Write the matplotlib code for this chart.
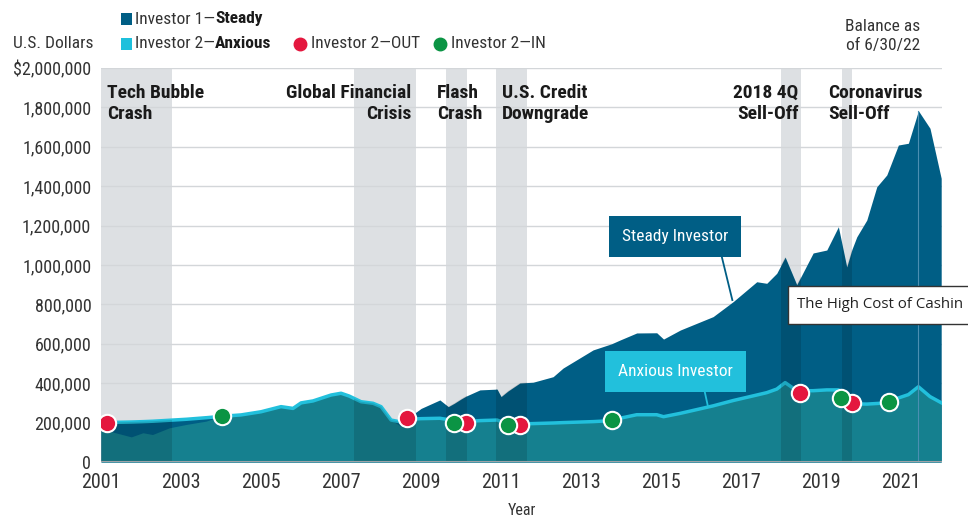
import numpy as np
import matplotlib
matplotlib.use('Agg')
import matplotlib.pyplot as plt
from matplotlib.patches import Rectangle

# balances (thousands of USD)
years = [2001.0, 2001.3, 2001.77, 2002.06, 2002.3, 2002.72, 2003.14, 2003.64, 2004.03, 2004.5,
         2005.0, 2005.5, 2005.8, 2006.0, 2006.3, 2006.75, 2007.0, 2007.2, 2007.5, 2007.8,
         2008.0, 2008.25, 2008.5, 2008.66, 2008.75, 2009.0, 2009.47, 2009.68, 2009.83, 2010.0,
         2010.13, 2010.47, 2010.9, 2011.0, 2011.17, 2011.47, 2011.8, 2012.3, 2012.55, 2013.3,
         2013.76, 2013.97, 2014.39, 2014.89, 2015.06, 2015.48, 2016.3, 2016.8, 2017.39, 2017.64,
         2017.89, 2018.1, 2018.39, 2018.8, 2019.14, 2019.43, 2019.64, 2019.77, 2019.89, 2020.14,
         2020.39, 2020.64, 2020.93, 2021.18, 2021.43, 2021.72, 2022.0]
steady = [170, 150, 125, 146, 137, 171, 188, 205, 232, 239,
          255, 281, 272, 300, 310, 340, 349, 335, 306, 298,
          281, 213, 180, 205, 235, 272, 315, 281, 298, 320,
          335, 366, 370, 332, 360, 401, 405, 433, 477, 569,
          600, 619, 655, 656, 624, 670, 738, 814, 915, 907,
          958, 1040, 900, 1061, 1076, 1194, 990, 1080, 1143, 1228,
          1397, 1457, 1609, 1618, 1783, 1694, 1440]
anxious = [200, 201, 203, 205, 207, 212, 217, 225, 232, 239,
           255, 281, 272, 300, 310, 340, 349, 335, 306, 298,
           281, 213, 203, 215, 218, 220, 222, 215, 205, 205,
           206, 210, 213, 205, 195, 193, 195, 198, 200, 205,
           210, 222, 240, 240, 230, 247, 285, 312, 340, 352,
           370, 403, 362, 362, 366, 366, 325, 298, 295, 294,
           297, 300, 325, 342, 382, 332, 301]

out_x = [2001.15, 2008.66, 2010.13, 2011.48, 2018.47, 2019.77]
out_y = [200, 222, 200, 188, 350, 301]
in_x = [2004.03, 2009.83, 2011.17, 2013.76, 2019.49, 2020.7]
in_y = [235, 200, 188, 213, 325, 306]

events = ['Tech Bubble\nCrash', 'Global Financial\nCrisis', 'Flash\nCrash',
          'U.S. Credit\nDowngrade', '2018 4Q\nSell-Off', 'Coronavirus\nSell-Off']
ev_start = [2001.0, 2007.33, 2009.62, 2010.87, 2018.0, 2019.52]
ev_end = [2002.77, 2008.87, 2010.14, 2011.65, 2018.49, 2019.78]

years = np.array(years)
steady = np.array(steady) * 1000
anxious = np.array(anxious) * 1000

DARK = '#005e85'
TEAL = '#15808f'
CYAN = '#22c0dc'
GRAY = '#dde0e3'
RED = '#e4173e'
GREEN = '#0b9444'
NARROW = ['Roboto Condensed', 'PT Sans Narrow', 'DejaVu Sans']

W, H = 968, 519
def fx(px):
    return px / W
def fy(py):
    return 1 - py / H

fig = plt.figure(figsize=(W / 100, H / 100), dpi=100)
ax = fig.add_axes([fx(101), fy(462), fx(942) - fx(101), fy(68) - fy(462)])

# event bands
for a, b in zip(ev_start, ev_end):
    ax.axvspan(a, b, ymin=0, ymax=1, color=GRAY, lw=0, zorder=0.5)
for v in range(200000, 2000001, 200000):
    ax.axhline(v, color='#d3d6d9', lw=1, zorder=1)

ax.fill_between(years, 0, steady, color=DARK, lw=0, zorder=2)
ax.fill_between(years, 0, anxious, color=TEAL, lw=0, zorder=3)
ax.fill_between(years, steady, anxious, where=anxious > steady, interpolate=True,
                color=DARK, lw=0, zorder=3.2)
ax.plot(years, anxious, color=CYAN, lw=2.5, zorder=4, solid_joinstyle='round')

# darker tint of the bands where they cross the areas
clip = ax.fill_between(years, 0, np.maximum(steady, anxious), color='none', lw=0)
for a, b in zip(ev_start, ev_end):
    r = ax.axvspan(a, b, color='k', alpha=0.13, lw=0, zorder=4.5)
    r.set_clip_path(clip.get_paths()[0], ax.transData)

peak = int(np.argmax(steady))
ax.plot([years[peak], years[peak]], [0, steady[peak]], color='#4b8fb2', lw=0.8, zorder=5)

ax.plot(out_x, np.array(out_y) * 1000, 'o', color=RED, ms=12.5, mec='white', mew=1.5, zorder=6)
ax.plot(in_x, np.array(in_y) * 1000, 'o', color=GREEN, ms=12.5, mec='white', mew=1.5, zorder=6)

ax.set_xlim(2001, 2022.02)
ax.set_ylim(0, 2000000)
ax.set_xticks(range(2001, 2022, 2))
ax.set_xticklabels([str(y) for y in range(2001, 2022, 2)], family=NARROW, fontsize=14.5, color='#333333')
yt = list(range(0, 2000001, 200000))
ax.set_yticks(yt)
ylabels = ['{:,}'.format(v) for v in yt]
ylabels[-1] = '$' + ylabels[-1]
ax.set_yticklabels(ylabels, family=NARROW, fontsize=13, color='#333333')
ax.tick_params(length=0, pad=8)
ax.tick_params(axis='y', pad=7)
for s in ax.spines.values():
    s.set_visible(False)
ax.axhline(0, color='#a0a4a8', lw=1.5, zorder=5)
ax.set_xlabel('Year', family=NARROW, fontsize=11.5, color='#333333', labelpad=8)

# event labels
ev_x = [2001.15, 2008.75, 2009.4, 2011.03, 2018.43, 2019.18]
ev_ha = ['left', 'right', 'left', 'left', 'right', 'left']
for t, x, ha in zip(events, ev_x, ev_ha):
    ax.text(x, 1918000, t, ha=ha, va='top', family=NARROW, fontweight='bold',
            fontsize=14, color='#1a1a1a', linespacing=1.22, zorder=7, multialignment=ha)

# callouts
ax.text(2015.35, 1147000, 'Steady Investor', ha='center', va='center', color='white',
        family=NARROW, fontsize=12.5, zorder=7,
        bbox=dict(boxstyle='square,pad=0.75', fc=DARK, ec='none'))
ax.plot([2016.5, 2016.78], [1055000, 822000], color=DARK, lw=1.3, zorder=7)
ax.text(2015.35, 460000, 'Anxious Investor', ha='center', va='center', color='white',
        family=NARROW, fontsize=12.5, zorder=7,
        bbox=dict(boxstyle='square,pad=0.75', fc=CYAN, ec='none'))
ax.plot([2016.07, 2016.17], [375000, 282000], color=CYAN, lw=1.3, zorder=7)

# tooltip box running off the right edge
fig.patches.append(Rectangle((fx(788), fy(324)), 200 / W, 38 / H, transform=fig.transFigure,
                             fc='white', ec='#333333', lw=1, figure=fig, zorder=8))
fig.text(fx(797), fy(305), 'The High Cost of Cashin', ha='left', va='center',
         family=['Open Sans', 'DejaVu Sans'], fontsize=10.8, color='#222222', zorder=9)

# header texts
fig.text(fx(13), fy(43), 'U.S. Dollars', ha='left', va='center', family=NARROW,
         fontsize=12.5, color='#333333')
fig.text(fx(883), fy(36), 'Balance as\nof 6/30/22', ha='center', va='center', family=NARROW,
         fontsize=12.5, color='#333333', linespacing=1.4)

# legend
renderer = fig.canvas.get_renderer()
def legend_item(px, py, marker, color, plain, bold=None):
    if marker == 's':
        fig.patches.append(Rectangle((fx(121), fy(py + 6)), 11 / W, 12 / H, transform=fig.transFigure,
                                     fc=color, ec='none', figure=fig))
        tx = 135
    else:
        fig.lines.append(plt.Line2D([fx(px)], [fy(py)], marker='o', ms=9, color=color,
                                    transform=fig.transFigure, figure=fig))
        tx = px + 11
    t = fig.text(fx(tx), fy(py), plain, ha='left', va='center', family=NARROW,
                 fontsize=12.5, color='#333333')
    if bold:
        bb = t.get_window_extent(renderer)
        fig.text(bb.x1 / W, fy(py), bold, ha='left', va='center', family=NARROW,
                 fontsize=12.5, fontweight='bold', color='#1a1a1a')

legend_item(121, 19, 's', DARK, 'Investor 1\u2014', 'Steady')
legend_item(121, 44, 's', '#1ec0dc', 'Investor 2\u2014', 'Anxious')
legend_item(300, 44, 'o', RED, 'Investor 2\u2014OUT')
legend_item(440, 44, 'o', GREEN, 'Investor 2\u2014IN')

plt.savefig('out.png', dpi=100)
